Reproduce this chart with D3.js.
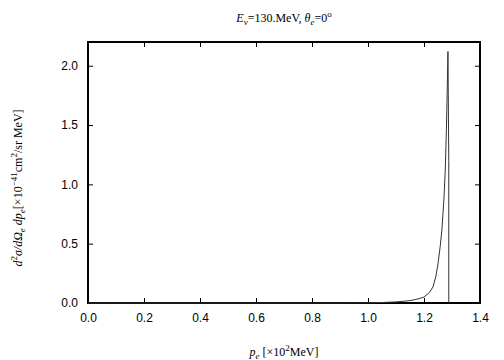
<!DOCTYPE html>
<meta charset="utf-8">
<style>
body { margin: 0; background: #fff; }
.tick text { font-family: "Liberation Sans", Arial, sans-serif; font-size: 12px; }
.lbl { font-family: "Liberation Serif", "Times New Roman", serif; font-size: 12px; }
</style>
<body>
<script src="https://d3js.org/d3.v7.min.js"></script>
<script>
// momentum p_e [x10^2 MeV] and cross section values
var pe   = [0, 0.9, 1.0, 1.05, 1.1, 1.15, 1.18, 1.2, 1.22, 1.232, 1.242, 1.25, 1.258, 1.264, 1.271, 1.276, 1.28, 1.283, 1.2855, 1.2885, 1.2885];
var xsec = [0, 0, 0.001, 0.004, 0.009, 0.02, 0.035, 0.05, 0.09, 0.135, 0.22, 0.33, 0.48, 0.62, 0.87, 1.12, 1.46, 1.8, 2.12, 1.2, 0];
var xTicks = [0, 0.2, 0.4, 0.6, 0.8, 1.0, 1.2, 1.4];
var yTicks = [0, 0.5, 1.0, 1.5, 2.0];

var margin = {top: 42, right: 24, bottom: 57, left: 88},
    width = 504 - margin.left - margin.right,
    height = 360 - margin.top - margin.bottom;

var svg = d3.select("body").append("svg")
    .attr("width", 504)
    .attr("height", 360);

var g = svg.append("g")
    .attr("transform", "translate(" + margin.left + "," + margin.top + ")");

var x = d3.scaleLinear().domain([0, 1.4]).range([0, width]);
var y = d3.scaleLinear().domain([0, 2.2]).range([height, 0]);

var fmt = d3.format(".1f");

// axes, ticks inward, mirrored on top/right
g.append("g")
    .attr("transform", "translate(0," + height + ")")
    .call(d3.axisBottom(x).tickValues(xTicks).tickFormat(fmt).tickSizeInner(-5).tickSizeOuter(0).tickPadding(10));
g.append("g")
    .call(d3.axisLeft(y).tickValues(yTicks).tickFormat(fmt).tickSizeInner(-5).tickSizeOuter(0).tickPadding(10));
g.append("g")
    .call(d3.axisTop(x).tickValues(xTicks).tickFormat("").tickSizeInner(-5).tickSizeOuter(0));
g.append("g")
    .attr("transform", "translate(" + width + ",0)")
    .call(d3.axisRight(y).tickValues(yTicks).tickFormat("").tickSizeInner(-5).tickSizeOuter(0));

g.selectAll(".domain").remove();
g.selectAll(".tick line").attr("stroke", "#000");
g.selectAll(".tick text").attr("fill", "#000");

g.append("rect")
    .attr("width", width)
    .attr("height", height)
    .attr("fill", "none")
    .attr("stroke", "#000")
    .attr("stroke-width", 2);

var data = pe.map(function(p, i) { return [p, xsec[i]]; });

var line = d3.line()
    .x(function(d) { return x(d[0]); })
    .y(function(d) { return y(d[1]); });

g.append("path")
    .datum(data)
    .attr("fill", "none")
    .attr("stroke", "#333")
    .attr("stroke-width", 1)
    .attr("d", line);

// title
var t = svg.append("text").attr("class", "lbl")
    .attr("x", 284).attr("y", 22).attr("text-anchor", "middle");
t.append("tspan").attr("font-style", "italic").text("E");
t.append("tspan").attr("font-style", "italic").attr("font-size", "9px").attr("dy", 3).text("ν");
t.append("tspan").attr("dy", -3).text("=130.MeV,  ");
t.append("tspan").attr("font-style", "italic").text("θ");
t.append("tspan").attr("font-style", "italic").attr("font-size", "9px").attr("dy", 3).text("e");
t.append("tspan").attr("dy", -3).text("=0");
t.append("tspan").attr("font-size", "9px").attr("dy", -5).text("o");

// x label
var xl = svg.append("text").attr("class", "lbl")
    .attr("x", 284).attr("y", 356).attr("text-anchor", "middle");
xl.append("tspan").attr("font-style", "italic").text("p");
xl.append("tspan").attr("font-style", "italic").attr("font-size", "9px").attr("dy", 3).text("e");
xl.append("tspan").attr("dy", -3).text(" [×10");
xl.append("tspan").attr("font-size", "9px").attr("dy", -5).text("2");
xl.append("tspan").attr("dy", 5).text("MeV]");

// y label
var yl = svg.append("text").attr("class", "lbl")
    .attr("transform", "translate(22,188) rotate(-90)")
    .attr("text-anchor", "middle");
yl.append("tspan").attr("font-style", "italic").text("d");
yl.append("tspan").attr("font-size", "9px").attr("dy", -5).text("2");
yl.append("tspan").attr("font-style", "italic").attr("dy", 5).text("σ/dΩ");
yl.append("tspan").attr("font-style", "italic").attr("font-size", "9px").attr("dy", 3).text("e");
yl.append("tspan").attr("font-style", "italic").attr("dy", -3).text(" dp");
yl.append("tspan").attr("font-style", "italic").attr("font-size", "9px").attr("dy", 3).text("e");
yl.append("tspan").attr("dy", -3).text("[×10");
yl.append("tspan").attr("font-size", "9px").attr("dy", -5).text("−41");
yl.append("tspan").attr("dy", 5).text("cm");
yl.append("tspan").attr("font-size", "9px").attr("dy", -5).text("2");
yl.append("tspan").attr("dy", 5).text("/sr MeV]");
</script>
</body>
